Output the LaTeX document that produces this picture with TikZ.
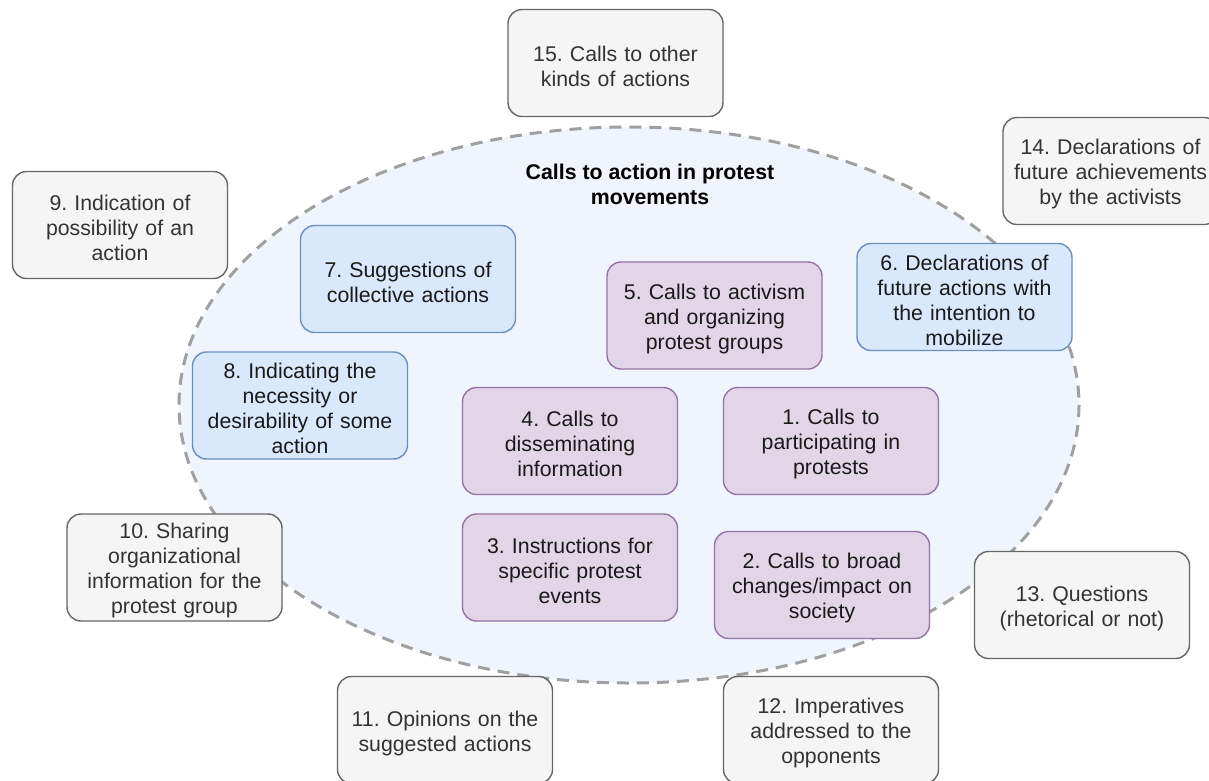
\documentclass[tikz,border=0pt]{standalone}
\usepackage{fontspec}
\setmainfont{Liberation Sans}
\frenchspacing
\begin{document}
\definecolor{grayfill}{HTML}{F5F5F5}
\definecolor{graydraw}{HTML}{666666}
\definecolor{graytext}{HTML}{333333}
\definecolor{bluefill}{HTML}{DAE8FC}
\definecolor{bluedraw}{HTML}{6C8EBF}
\definecolor{purpfill}{HTML}{E1D5E7}
\definecolor{purpdraw}{HTML}{9673A6}
\definecolor{ovalfill}{HTML}{F0F4FC}
\definecolor{ovaldraw}{HTML}{A0A0A0}
\begin{tikzpicture}[x=1pt,y=-1pt,
  card/.style={rectangle, rounded corners=14pt, line width=1.4pt,
    minimum width=215pt, minimum height=107pt, text width=205pt,
    align=center, inner sep=2pt,
    font=\fontsize{21.3}{25}\selectfont,
    execute at begin node={\frenchspacing\rule{0pt}{22pt}}},
  outer/.style={card, fill=grayfill, draw=graydraw, text=graytext},
  collective/.style={card, fill=bluefill, draw=bluedraw, text=black!90},
  core/.style={card, fill=purpfill, draw=purpdraw, text=black!90},
  heading/.style={align=center, font=\fontsize{21.3}{25}\selectfont\bfseries, text=black}]
\useasboundingbox (0,0) rectangle (1209,780);
\fill[white] (0,0) rectangle (1209,780);

% the category area
\draw[fill=ovalfill, draw=ovaldraw, line width=3pt, dash pattern=on 12pt off 8pt]
  (629,405) ellipse [x radius=450, y radius=278];
\node[heading] (title) at (650,184) {Calls to action in protest\\movements};

% outer categories
\node[outer] (c15) at (615.5,63) {15. Calls to other\\kinds of actions};
\node[outer] (c14) at (1110.5,171) {14. Declarations of\\future achievements\\by the activists};
\node[outer] (c9) at (120,225) {9. Indication of\\possibility of an\\action};
\node[outer] (c10) at (174.5,567.5) {10. Sharing\\organizational\\information for the\\protest group};
\node[outer] (c13) at (1082,605) {13. Questions\\(rhetorical or not)};
\node[outer] (c11) at (445,730) {11. Opinions on the\\suggested actions};
\node[outer] (c12) at (831,730) {12. Imperatives\\addressed to the\\opponents};

% collective-action categories
\node[collective] (c7) at (408,279) {7. Suggestions of\\collective actions};
\node[collective] (c6) at (964.5,297) {6. Declarations of\\future actions with\\the intention to\\mobilize};
\node[collective] (c8) at (300,405.5) {8. Indicating the\\necessity or\\desirability of some\\action};

% core calls to action
\node[core] (c5) at (714.5,315.5) {5. Calls to activism\\and organizing\\protest groups};
\node[core] (c4) at (570,441) {4. Calls to\\disseminating\\information};
\node[core] (c1) at (831,441) {1. Calls to\\participating in\\protests};
\node[core] (c3) at (570,567.5) {3. Instructions for\\specific protest\\events};
\node[core] (c2) at (822,585) {2. Calls to broad\\changes/impact on\\society};
\end{tikzpicture}
\end{document}
